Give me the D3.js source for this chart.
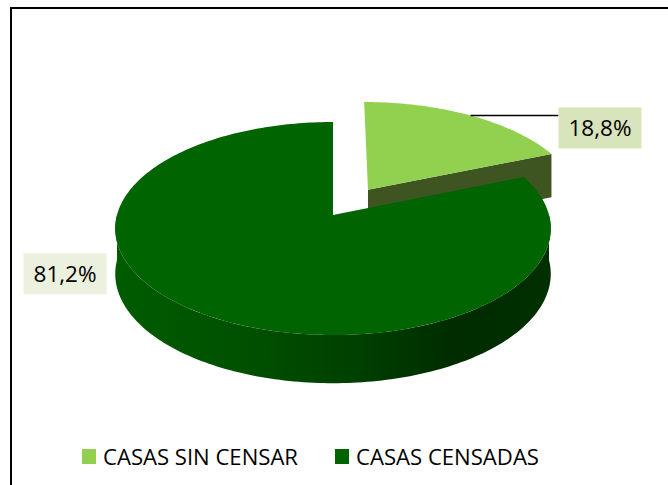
<!DOCTYPE html>
<html>
  <head>
    <meta charset="utf-8">
    <title>Casas censadas</title>
    <style>
      body { margin: 0; background-color: white; }
      .lbl { font: 22px "Open Sans", sans-serif; fill: #000; }
      .leg { font: 22px "Open Sans", sans-serif; fill: #000; }
    </style>
  </head>
  <body>
  <svg id="chart" width="668" height="485"></svg>
  <script src="https://cdn.jsdelivr.net/npm/d3@7/dist/d3.min.js"></script>
  <script>
  // data
  var categories = ["CASAS SIN CENSAR", "CASAS CENSADAS"];
  var values = [18.8, 81.2];
  var topColors = ["#92D050", "#006400"];
  var boxColors = ["#D8E4BC", "#EBF1DE"];

  var svg = d3.select("#chart");

  // frame of the chart area (runs past the right / bottom of the picture)
  svg.append("rect")
    .attr("x", 11).attr("y", 8)
    .attr("width", 720).attr("height", 520)
    .attr("fill", "white")
    .attr("stroke", "black")
    .attr("stroke-width", 2);

  // 3d projection values
  var CX = 333, CY = 215, RX = 216, RY = 104.8, K = 0.127, DEPTH = 45, EXPLODE = 0.3;

  function proj(theta, r, off, h) {
    var X = r * Math.sin(theta) + off[0];
    var Z = r * Math.cos(theta) + off[1];
    var d = 1 + K * Z;
    return [CX + RX * X / d, CY - RY * Z / d + h * DEPTH / Math.sqrt(d)];
  }

  function arcPts(a0, a1, off, h) {
    var n = Math.max(2, Math.ceil((a1 - a0) / 0.02));
    return d3.range(n + 1).map(function(i) {
      return proj(a0 + (a1 - a0) * i / n, 1, off, h);
    });
  }

  var pie = d3.pie().sort(null).startAngle(0).endAngle(2 * Math.PI);
  var arcs = pie(values).map(function(a, i) {
    var mid = (a.startAngle + a.endAngle) / 2;
    var e = i === 0 ? EXPLODE : 0;
    a.off = [e * Math.sin(mid), e * Math.cos(mid)];
    a.mid = mid;
    return a;
  });

  var line = d3.line();

  // side wall gradient for the big slice
  var grad = svg.append("defs").append("linearGradient")
    .attr("id", "wallGrad")
    .attr("gradientUnits", "userSpaceOnUse")
    .attr("x1", CX - RX).attr("x2", CX + RX).attr("y1", 0).attr("y2", 0);
  [[0, "#005C00"], [0.3, "#005000"], [0.55, "#004000"], [0.78, "#002C00"], [1, "#002F00"]].forEach(function(s) {
    grad.append("stop").attr("offset", s[0]).attr("stop-color", s[1]);
  });

  // small slice (exploded, at the back): cut face then top
  var s = arcs[0];
  var c0 = proj(0, 0, s.off, 0), c1 = proj(0, 0, s.off, 1);
  var e0 = proj(s.endAngle, 1, s.off, 0), e1 = proj(s.endAngle, 1, s.off, 1);
  svg.append("path")
    .attr("d", line([c0, e0, e1, c1]) + "Z")
    .attr("fill", "#3E5522");
  svg.append("path")
    .attr("d", line([c0].concat(arcPts(s.startAngle, s.endAngle, s.off, 0))) + "Z")
    .attr("fill", topColors[0]);

  // big slice: outer wall then top
  var b = arcs[1];
  var w0 = Math.max(b.startAngle, Math.PI / 2), w1 = Math.min(b.endAngle, 3 * Math.PI / 2);
  var wall = arcPts(w0, w1, b.off, 0).concat(arcPts(w0, w1, b.off, 1).reverse());
  svg.append("path")
    .attr("d", line(wall) + "Z")
    .attr("fill", "url(#wallGrad)");
  svg.append("path")
    .attr("d", line([proj(0, 0, b.off, 0)].concat(arcPts(b.startAngle, b.endAngle, b.off, 0))) + "Z")
    .attr("fill", topColors[1]);

  // data labels
  var fmt = d3.formatLocale({decimal: ",", thousands: ".", grouping: [3], currency: ["", ""]}).format(".1f");
  var boxW = 83, boxH = 41;
  var labelShift = [[88, -8], [-175, -59]];
  arcs.forEach(function(a, i) {
    var p = proj(a.mid, 1, a.off, 0);
    var bx = p[0] + labelShift[i][0], by = p[1] + labelShift[i][1];
    if (i === 0) {
      svg.append("line")
        .attr("x1", p[0]).attr("y1", p[1])
        .attr("x2", bx).attr("y2", p[1])
        .attr("stroke", "black").attr("stroke-width", 1.5);
    }
    svg.append("rect")
      .attr("x", bx).attr("y", by)
      .attr("width", boxW).attr("height", boxH)
      .attr("fill", boxColors[i]);
    svg.append("text")
      .attr("class", "lbl")
      .attr("x", bx + boxW / 2).attr("y", by + 29)
      .attr("text-anchor", "middle")
      .attr("textLength", 63)
      .attr("lengthAdjust", "spacingAndGlyphs")
      .text(fmt(a.data) + "%");
  });

  // legend
  var legendX = [82, 335];
  var legendW = [195, 183];
  var leg = svg.selectAll("g.legend")
    .data(categories)
    .enter().append("g")
    .attr("class", "legend")
    .attr("transform", function(d, i) { return "translate(" + legendX[i] + ",449)"; });
  leg.append("rect")
    .attr("width", 14).attr("height", 15)
    .attr("fill", function(d, i) { return topColors[i]; });
  leg.append("text")
    .attr("class", "leg")
    .attr("x", 21).attr("y", 16)
    .attr("textLength", function(d, i) { return legendW[i]; })
    .attr("lengthAdjust", "spacingAndGlyphs")
    .text(function(d) { return d; });
  </script>
  </body>
</html>
